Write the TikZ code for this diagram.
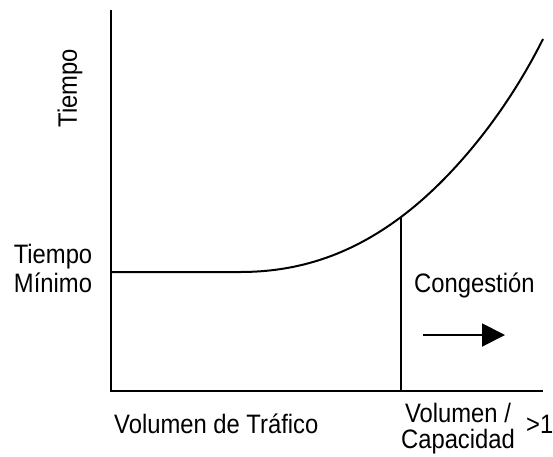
\documentclass[tikz,border=0pt]{standalone}
\usepackage{fontspec}
\setmainfont{Liberation Sans}
\usetikzlibrary{arrows.meta}
\newcommand\vstretch[1]{\scalebox{1}[1.12]{#1}}
\begin{document}
\begin{tikzpicture}[x=1pt,y=-1pt,
  lbl/.style={inner sep=0pt, font=\fontsize{23.8}{28}\selectfont},
  axis/.style={line width=2.4pt},
  curve/.style={line width=2pt},
  arr/.style={line width=2pt, -{Triangle[length=23pt,width=23pt]}}]
\useasboundingbox (0,0) rectangle (553,456);
\coordinate (top) at (111,10);
\coordinate (orig) at (111,391);
\coordinate (xend) at (543,391);
\coordinate (flat) at (240,272);
\coordinate (cap) at (401,217);
\coordinate (capb) at (401,391);
\coordinate (cend) at (543,39);
\draw[axis] (top) -- (orig) -- (xend);
\draw[curve] (111,272) -- (flat) .. controls (294,272) and (347,257.5) .. (cap)
  .. controls (448,182) and (503,119) .. (cend);
\draw[axis] (cap) -- (capb);
\node[lbl, rotate=90] (ty) at (70,88) {\vstretch{Tiempo}};
\node[lbl, anchor=base] (tm1) at (53,263) {\vstretch{Tiempo}};
\node[lbl, anchor=base] (tm2) at (53,292) {\vstretch{Mínimo}};
\node[lbl, anchor=base west] (vt) at (114,433) {\vstretch{Volumen de Tráfico}};
\node[lbl, anchor=base] (vc1) at (458,422) {\vstretch{Volumen /}};
\node[lbl, anchor=base] (vc2) at (458,448) {\vstretch{Capacidad}};
\node[lbl, anchor=base west] (gt) at (526,433) {\vstretch{>1}};
\node[lbl, anchor=base west] (cg) at (414,292) {\vstretch{Congestión}};
\coordinate (a1) at (423,335);
\coordinate (a2) at (505,335);
\draw[arr] (a1) -- (a2);
\end{tikzpicture}
\end{document}
